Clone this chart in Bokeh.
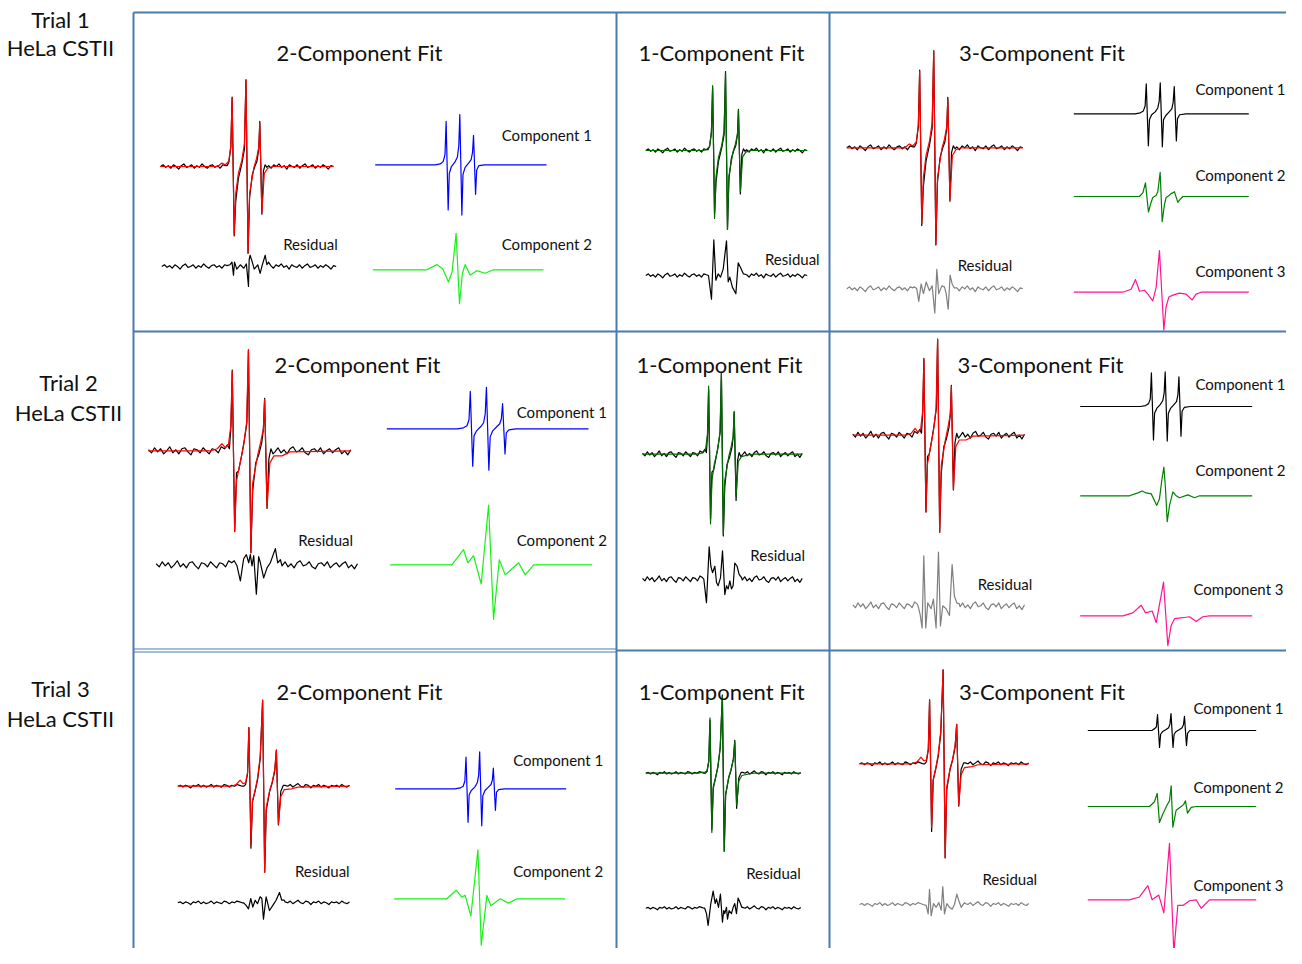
from bokeh.plotting import figure
from bokeh.models import Range1d, ColumnDataSource
from bokeh.core.properties import value
from bokeh.embed import file_html
from bokeh.resources import INLINE

# ---------------- data (field in G, intensity in % of the central line) ----------------
FIELD_L = list(range(3400, 3476, 3))
FIELD_R = list(range(3525, 3601, 3))

NOISE_T1_L = [0, 2, -1, 1, -2, 2, 0, -3, 1, 3, -1, 0, 2, -2, 1, -1, 3, 0, -2, 1, 2, -1, 1, -2, 2, 1]
NOISE_T1_R = [1, -2, 2, 0, 3, -1, 1, -3, 2, 0, -1, 2, -2, 1, 3, -1, 0, 2, -2, 1, -1, 2, 0, -3, 1, 0]
NOISE_T2_L = [1, -2, 3, -1, 2, -3, 0, 4, -2, 1, -3, 2, 3, -1, -4, 2, 1, -2, 3, 0, -3, 2, 1, -2, 4, 2]
NOISE_T2_R = [-1, 3, -2, 1, -3, 2, 4, -1, 0, 3, -2, -4, 1, 2, -1, 3, -3, 0, 2, -2, 1, 3, -3, 0, -4, 1]
NOISE_T3_L = [0, 1, -1, 1, 0, -2, 1, 0, 2, -1, 1, -1, 0, 2, -1, 1, 0, -1, 2, 1, -1, 1, 0, 2, 1, 0]
NOISE_T3_R = [1, 0, 2, -1, 1, 3, 0, -1, 2, 1, -2, 1, 0, 2, -1, 1, 0, -2, 1, 0, 1, -1, 2, 0, -1, 1]

# experimental spectra (central part)
EXP_T1_B = [3477, 3479, 3481.3, 3482.8, 3485.2, 3487, 3490, 3494, 3497, 3498.8, 3501.2, 3503, 3506, 3509, 3511.5, 3513.6, 3514.8, 3517.2, 3519, 3521, 3523]
EXP_T1_I = [1, 5, 22, 80, -80, -40, -14, 3, 20, 100, -100, -36, -10, 0, 6, 20, 52, -55, -5, 2, -1]
EXP_T2_B = [3476, 3478, 3480, 3481.6, 3482.8, 3485.2, 3487, 3489, 3492, 3495, 3497.3, 3498.8, 3501.2, 3503, 3506, 3509, 3512, 3513.6, 3514.8, 3517.2, 3519, 3521, 3523]
EXP_T2_I = [3, 6, 2, 26, 80, -80, -22, -20, -5, 12, 28, 100, -101, -40, -12, -4, 8, 22, 52, -57, -8, 2, -3]
EXP_T3_B = [3477, 3479, 3481.3, 3482.8, 3485.2, 3487, 3490, 3493, 3496, 3498.8, 3501.2, 3503, 3507, 3510, 3513, 3514.8, 3517.2, 3520, 3523]
EXP_T3_I = [0, 2, 15, 68, -72, -18, -6, 8, 32, 100, -100, -28, -6, 4, 18, 42, -45, -6, 1]

# fits (multi = 2/3-component, single = 1-component)
FIT_T1_B = [3400, 3466, 3471, 3475, 3479, 3481.3, 3482.8, 3485.2, 3487, 3490, 3494, 3497, 3498.8, 3501.2, 3503, 3508, 3511, 3513.6, 3514.8, 3517.2, 3520, 3524, 3530, 3600]
FIT_T1_MULTI = [0, 0, 4, 2, 6, 24, 79, -78, -31, -8, 7, 26, 100, -100, -31, -1, 9, 22, 50, -53, -8, -2, 0, 0]
FIT_T1_SINGLE = [0, 0, 0, 1, 5, 24, 82, -86, -33, -9, 6, 25, 98, -100, -32, -2, 8, 21, 51, -52, -8, -2, 0, 0]
FIT_T2_B = [3400, 3462, 3468, 3472.6, 3476, 3479, 3481.3, 3482.8, 3485.2, 3487, 3490, 3494, 3497, 3498.8, 3501.2, 3503, 3508, 3511, 3513.6, 3514.8, 3517.2, 3520, 3524, 3532, 3540, 3600]
FIT_T2_MULTI = [0, 0, 2, 7, 3, 6, 24, 79, -80, -30, -15, 5, 28, 100, -101, -32, -4, 9, 22, 51, -56, -12, -5, -5, -1, 0]
FIT_T2_SINGLE = [0, 0, 0, 1, 2, 6, 24, 84, -86, -32, -12, 5, 26, 100, -99, -33, -3, 9, 22, 53, -52, -9, -3, -1, 0, 0]
FIT_T3_B = [3400, 3462, 3468, 3472.6, 3476, 3479, 3481.3, 3482.8, 3485.2, 3487, 3490, 3493, 3496, 3498.8, 3501.2, 3503, 3507, 3510, 3513, 3514.8, 3517.2, 3520, 3524, 3532.8, 3540, 3600]
FIT_T3_MULTI = [0, 0, 2, 7, 3, 4, 16, 68, -68, -17, -5, 10, 35, 100, -100, -25, -5, 5, 20, 42, -44, -12, -4, -3, -1, 0]
FIT_T3_SINGLE = [0, 0, 0, 1, 1, 3, 16, 71, -76, -20, -6, 8, 33, 100, -100, -27, -5, 5, 18, 40, -41, -10, -3, -1, 0, 0]

# residuals (central part)
RES_T1_2C_B = [3478, 3480.5, 3482.2, 3483.4, 3486, 3490, 3494, 3497, 3499.4, 3500.2, 3501.3, 3503.2, 3506, 3510, 3512.8, 3515, 3518.6, 3520.5, 3522.4]
RES_T1_2C_I = [2, 5, -10, 5, -3, 2, -2, 3, -23, 8, 13, 7, -3, 2, -8, 1, 13, 2, 5]
RES_T1_1C_B = [3477.7, 3481.4, 3484.3, 3486.8, 3489.7, 3492.6, 3495.9, 3500, 3502.1, 3504.1, 3507.4, 3511.6, 3514.5, 3517.4, 3521]
RES_T1_1C_I = [0, -30, 45, -6, 2, -2, 8, 44, -8, -2, -15, -23, 16, 10, 2]
RES_T1_3C_B = [3477, 3479.5, 3481.8, 3484.5, 3487.1, 3490.2, 3493.9, 3497, 3500, 3502.3, 3504.5, 3508, 3511, 3512.9, 3515.2, 3517.4, 3519.7, 3522]
RES_T1_3C_I = [2, 0, -13, 5, -5, 7, -2, 3, -25, 20, -5, 3, 2, -5, -21, 14, 5, 1]
RES_T2_2C_B = [3477.5, 3480.3, 3483.6, 3486.9, 3489.6, 3491.9, 3493.5, 3495.2, 3496.9, 3499.5, 3501.8, 3503.5, 3506.8, 3510.1, 3513.4, 3518.4, 3520.7, 3523.4]
RES_T2_2C_I = [4, -1, -16, 6, 10, 2, 10, -1, 9, -29, 8, 2, -13, -3, 2, 16, 2, 5]
RES_T2_1C_B = [3476.8, 3480.1, 3483.5, 3485.6, 3487.7, 3490.6, 3492.7, 3494.8, 3497.7, 3500.2, 3503.1, 3505.2, 3507.3, 3509.4, 3511.4, 3513.5, 3515.6, 3518.5, 3521, 3524]
RES_T2_1C_I = [0, -29, 40, 16, 8, 16, -4, -8, 2, 35, -19, -8, -12, -2, -12, -8, 20, 16, 6, 2]
RES_T2_3C_B = [3476, 3478.4, 3480.7, 3482.7, 3485, 3487.3, 3491.2, 3493.9, 3497, 3499.8, 3502.1, 3504.8, 3508.7, 3512.6, 3515.7, 3518.4, 3521.1, 3524]
RES_T2_3C_I = [0, -9, -23, 52, -23, 3, -3, 7, -23, 56, -21, 0, -3, -10, 43, 10, 3, 2]
RES_T3_2C_B = [3476.5, 3479.6, 3482.3, 3485, 3487.4, 3490.1, 3492.8, 3495.9, 3497.9, 3499.8, 3502.9, 3504.8, 3506.8, 3510.7, 3514.5, 3518.4, 3521.1, 3523.9]
RES_T3_2C_I = [0, -3, -7, 5, -5, 3, -1, 7, 5, -19, 7, -1, -9, -3, 3, 12, 3, 3]
RES_T3_1C_B = [3476, 3478.3, 3480.4, 3483.9, 3486.9, 3489.5, 3491.2, 3493.8, 3496.3, 3498.9, 3500.6, 3501.9, 3504.1, 3505.4, 3507.5, 3510.5, 3512.7, 3514.8, 3517, 3519.1, 3522.1, 3524]
RES_T3_1C_I = [0, -7, -22, 6, 22, 6, 12, 1, 18, -18, -3, -7, 1, -14, -3, -7, 1, 6, -7, 13, 6, 1]
RES_T3_3C_B = [3478.8, 3481.1, 3482.7, 3484.7, 3487.4, 3490.6, 3493.7, 3496.5, 3498.4, 3500.4, 3503.2, 3506.3, 3509.5, 3512.2, 3515, 3517.4, 3520.1, 3524]
RES_T3_3C_I = [-1, -10, 16, -12, 1, -3, 2, -6, 19, -10, 1, -3, -5, 0, 11, 4, -3, 2]

# component 1 (narrow three-line component)
COMP1_B = [3400, 3470, 3476, 3479.5, 3481.5, 3482.8, 3485.2, 3486.5, 3489, 3493, 3496, 3497.6, 3498.8, 3501.2, 3502.5, 3505, 3509, 3512, 3513.6, 3514.8, 3517.2, 3518.5, 3521, 3528, 3600]
C1_T1_2C = [0, 0, 1, 4, 12, 50, -52, -10, -2, 3, 9, 22, 58, -58, -11, -3, 2, 6, 14, 34, -34, -6, -1, 0, 0]
C1_T1_3C = [0, 0, 1, 3, 8, 31, -33, -6, -1, 2, 6, 13, 32, -34, -6, -2, 2, 5, 12, 28, -28, -5, -1, 0, 0]
C1_T2_2C = [0, 0, 1, 3, 9, 37, -37, -7, -2, 2, 6, 15, 41, -41, -8, -2, 2, 5, 10, 25, -25, -4, -1, 0, 0]
C1_T2_3C = [0, 0, 1, 3, 8, 35, -35, -7, -2, 2, 6, 14, 36, -36, -7, -2, 2, 5, 12, 31, -31, -5, -1, 0, 0]
C1_T3_2C = [0, 0, 1, 3, 9, 37, -39, -7, -2, 2, 7, 16, 43, -43, -8, -2, 2, 5, 10, 24, -25, -4, -1, 0, 0]
C1_T3_3C = [0, 0, 0, 2, 4, 17, -18, -4, -1, 1, 3, 7, 18, -18, -4, -1, 1, 3, 6, 15, -16, -3, 0, 0, 0]

# component 2
C2_T1_2C_B = [3400, 3463.3, 3475, 3482, 3488.7, 3493, 3497.6, 3501.6, 3505, 3508.2, 3514, 3521.8, 3531.6, 3541.4, 3600]
C2_T1_2C_I = [0, 0, 6, 1, -14, -2, 42, -39, -4, 6, -6, -1, -4, 0, 0]
C2_T2_2C_B = [3400, 3461, 3472.6, 3476.9, 3482.5, 3490.1, 3497.4, 3502.3, 3508, 3513.9, 3527.1, 3533.7, 3542, 3600]
C2_T2_2C_I = [0, 0, 15, 2, 9, -19, 59, -54, 5, -10, 2, -10, 0, 0]
C2_T3_2C_B = [3400, 3461.6, 3472.5, 3479.1, 3483, 3489.7, 3497.9, 3501.8, 3508.4, 3513.1, 3524, 3533.7, 3543.5, 3600]
C2_T3_2C_I = [0, 0, 10, 2, 4, -20, 57, -54, 4, -8, 0, -5, 0, 0]
C2_T1_3C_B = [3400, 3470, 3475, 3479, 3481.9, 3485.3, 3488, 3490.3, 3494, 3496, 3498.7, 3501, 3503.5, 3505.5, 3509, 3511.2, 3513.5, 3515, 3518.9, 3521.5, 3524.6, 3530, 3600]
C2_T1_3C_I = [0, 0, 0, 4, 14, -16, -7, -1, 1, 5, 25, -26, -9, -1, 1, 3, 4, 5, -6, -3, 0, 0, 0]
C2_T2_3C_B = [3400, 3457.4, 3467.1, 3472.1, 3476.7, 3482.6, 3489.1, 3492.2, 3495, 3497.3, 3499.2, 3501.2, 3503.9, 3507.8, 3511.6, 3515.5, 3525.2, 3532.9, 3538.8, 3600]
C2_T2_3C_I = [0, 0, 3, 5, 3, 2, -10, -3, 17, 30, 7, -27, -10, 4, 0, -2, 1, -2, 0, 0]
C2_T3_3C_B = [3400, 3473.3, 3479.2, 3482.4, 3485.1, 3489.1, 3493.9, 3497, 3499, 3501, 3504.9, 3510.9, 3513.7, 3516, 3518.4, 3522.8, 3528.7, 3600]
C2_T3_3C_I = [0, 0, 5, 14, -17, -8, 1, 6, 22, -22, -4, 0, 2, 6, -7, -1, 0, 0]

# component 3
C3_T1_3C_B = [3400, 3456, 3465.5, 3470.5, 3475.1, 3480.8, 3484.6, 3490.3, 3494.1, 3497.9, 3502.9, 3505.5, 3508.6, 3513.2, 3520.8, 3528.4, 3535.3, 3539.8, 3545.5, 3600]
C3_T1_3C_I = [0, 0, 3, 13, 1, 2, -2, -9, 5, 43, -39, -15, -5, -3, -1, -2, -8, -2, 0, 0]
C3_T2_3C_B = [3400, 3449.6, 3461.2, 3470.9, 3476, 3483.7, 3488.4, 3496.9, 3501.9, 3505.8, 3509.7, 3519.4, 3527.1, 3534.9, 3542.6, 3550.4, 3600]
C3_T2_3C_I = [0, 0, 3, 11, 3, 5, -7, 35, -31, -10, -3, -2, -1, -6, -1, 0, 0]
C3_T3_3C_B = [3400, 3449.5, 3461.4, 3471.3, 3476.4, 3484.3, 3490.3, 3497, 3502.2, 3506.9, 3512.9, 3520.8, 3528.7, 3534.6, 3544.5, 3600]
C3_T3_3C_I = [0, 0, 3, 15, 0, 5, -14, 60, -56, -6, -6, -1, 0, -9, 0, 0]

ROW_LABELS = ["Trial 1", "Trial 2", "Trial 3"]
CELL_LINE = "HeLa CSTII"
PANEL_TITLES = ["2-Component Fit", "1-Component Fit", "3-Component Fit"]

# ---------------- styles / layout ----------------
BLACK, RED, BLUE, LIME = "#000000", "#ff0000", "#0000ff", "#19f019"
DKGREEN, GREEN, GRAY, PINK = "#006a00", "#008000", "#7f7f7f", "#ff1493"
RULE = "#4a7bb0"
FONT = "Lato"

def full(noise_l, mid, noise_r):
    return list(noise_l) + list(mid) + list(noise_r)

EXP = {
    1: (FIELD_L + EXP_T1_B + FIELD_R, full(NOISE_T1_L, EXP_T1_I, NOISE_T1_R)),
    2: (FIELD_L + EXP_T2_B + FIELD_R, full(NOISE_T2_L, EXP_T2_I, NOISE_T2_R)),
    3: (FIELD_L + EXP_T3_B + FIELD_R, full(NOISE_T3_L, EXP_T3_I, NOISE_T3_R)),
}
NOISE = {1: (NOISE_T1_L, NOISE_T1_R), 2: (NOISE_T2_L, NOISE_T2_R), 3: (NOISE_T3_L, NOISE_T3_R)}

def res(t, b, i):
    return (FIELD_L + b + FIELD_R, full(NOISE[t][0], i, NOISE[t][1]))

# (data, colour, left px, right px, baseline px, px per 100 %)
TRACES = [
    # ---- trial 1 ----
    (EXP[1], BLACK, 160, 333, 166, 86.7),
    ((FIT_T1_B, FIT_T1_MULTI), RED, 160, 333, 166, 86.7),
    (res(1, RES_T1_2C_B, RES_T1_2C_I), BLACK, 161.3, 335.7, 266, 86.7),
    ((COMP1_B, C1_T1_2C), BLUE, 374.7, 546, 164.3, 86.7),
    ((C2_T1_2C_B, C2_T1_2C_I), LIME, 372.3, 543, 269.3, 86.7),
    (EXP[1], BLACK, 645.3, 806.7, 150, 79),
    ((FIT_T1_B, FIT_T1_SINGLE), DKGREEN, 645.3, 806.7, 150, 79),
    (res(1, RES_T1_1C_B, RES_T1_1C_I), BLACK, 645.3, 806.7, 275, 79),
    (EXP[1], BLACK, 846.3, 1022.3, 147.3, 97),
    ((FIT_T1_B, FIT_T1_MULTI), RED, 846.3, 1022.3, 147.3, 97),
    (res(1, RES_T1_3C_B, RES_T1_3C_I), GRAY, 846.3, 1022.3, 288.3, 97),
    ((COMP1_B, C1_T1_3C), BLACK, 1073.3, 1248.3, 113.3, 97),
    ((C2_T1_3C_B, C2_T1_3C_I), GREEN, 1073.3, 1248.3, 196, 97),
    ((C3_T1_3C_B, C3_T1_3C_I), PINK, 1073.3, 1248.3, 291.7, 97),
    # ---- trial 2 ----
    (EXP[2], BLACK, 148, 350.3, 450.3, 101),
    ((FIT_T2_B, FIT_T2_MULTI), RED, 148, 350.3, 450.3, 101),
    (res(2, RES_T2_2C_B, RES_T2_2C_I), BLACK, 155.7, 357, 564.3, 101),
    ((COMP1_B, C1_T2_2C), BLUE, 386.3, 588, 428.3, 101),
    ((C2_T2_2C_B, C2_T2_2C_I), LIME, 389.7, 591.7, 564.3, 101),
    (EXP[2], BLACK, 642, 801.7, 453.7, 81),
    ((FIT_T2_B, FIT_T2_SINGLE), DKGREEN, 642, 801.7, 453.7, 81),
    (res(2, RES_T2_1C_B, RES_T2_1C_I), BLACK, 642, 801.7, 578.7, 81),
    (EXP[2], BLACK, 852.3, 1024, 434.7, 96),
    ((FIT_T2_B, FIT_T2_MULTI), RED, 852.3, 1024, 434.7, 96),
    (res(2, RES_T2_3C_B, RES_T2_3C_I), GRAY, 852.3, 1024, 605.3, 96),
    ((COMP1_B, C1_T2_3C), BLACK, 1079.7, 1251.7, 406, 96),
    ((C2_T2_3C_B, C2_T2_3C_I), GREEN, 1079.7, 1251.7, 495.3, 96),
    ((C3_T2_3C_B, C3_T2_3C_I), PINK, 1079.7, 1251.7, 615.3, 96),
    # ---- trial 3 ----
    (EXP[3], BLACK, 177.3, 349, 785.7, 86),
    ((FIT_T3_B, FIT_T3_MULTI), RED, 177.3, 349, 785.7, 86),
    (res(3, RES_T3_2C_B, RES_T3_2C_I), BLACK, 177.3, 349, 902.3, 86),
    ((COMP1_B, C1_T3_2C), BLUE, 394.7, 565.7, 788.3, 86),
    ((C2_T3_2C_B, C2_T3_2C_I), LIME, 393.7, 564.7, 898.3, 86),
    (EXP[3], BLACK, 645.3, 800.3, 772.7, 78),
    ((FIT_T3_B, FIT_T3_SINGLE), DKGREEN, 645.3, 800.3, 772.7, 78),
    (res(3, RES_T3_1C_B, RES_T3_1C_I), BLACK, 645.3, 800.3, 907.7, 78),
    (EXP[3], BLACK, 859, 1028.3, 763.3, 94),
    ((FIT_T3_B, FIT_T3_MULTI), RED, 859, 1028.3, 763.3, 94),
    (res(3, RES_T3_3C_B, RES_T3_3C_I), GRAY, 859, 1028.3, 904, 94),
    ((COMP1_B, C1_T3_3C), BLACK, 1087.3, 1255.7, 730, 94),
    ((C2_T3_3C_B, C2_T3_3C_I), GREEN, 1087.3, 1255.7, 806, 94),
    ((C3_T3_3C_B, C3_T3_3C_I), PINK, 1087.3, 1255.7, 899.3, 94),
]

W, H = 1286, 948
X0, X1, Y0, Y1 = 0, W, 0, H
B_MIN, B_MAX = 3400, 3600

p = figure(width=W, height=H, x_range=Range1d(X0, X1), y_range=Range1d(Y1, Y0),
           output_backend="svg", toolbar_location=None, min_border=0,
           x_axis_location=None, y_axis_location=None, title=None)
p.grid.visible = False
p.outline_line_color = None
p.background_fill_color = "white"
p.border_fill_color = "white"

# panel rules
p.segment(x0=[133, 616, 829], y0=[12, 12, 12], x1=[133, 616, 829], y1=[964, 964, 964],
          line_color=RULE, line_width=2)
p.segment(x0=[133, 133, 616], y0=[12, 331, 650], x1=[1302, 1302, 1302], y1=[12, 331, 650],
          line_color=RULE, line_width=2)
p.segment(x0=[133, 133], y0=[648.5, 651.5], x1=[616, 616], y1=[648.5, 651.5],
          line_color=RULE, line_width=1.2)

# spectra, each through its own pair of scales
for k, ((bx, iy), col, x0, x1, base, hpx) in enumerate(TRACES):
    kx = (x1 - x0) / (B_MAX - B_MIN)
    ky = hpx / 100.0
    xr = Range1d(B_MIN - (x0 - X0) / kx, B_MAX + (X1 - x1) / kx)
    yr = Range1d((base - Y1) / ky, (base - Y0) / ky)
    p.extra_x_ranges[f"x{k}"] = xr
    p.extra_y_ranges[f"y{k}"] = yr
    src = ColumnDataSource(dict(b=list(bx), i=list(iy)))
    p.line("b", "i", source=src, x_range_name=f"x{k}", y_range_name=f"y{k}",
           line_color=col, line_width=1.2, line_join="round")

def texts(xs, ys, labels, size):
    src = ColumnDataSource(dict(x=xs, y=ys, t=labels))
    p.text("x", "y", text="t", source=src, text_font=value(FONT),
           text_font_size=value(size), text_align="center",
           text_baseline="middle", text_color="#111111")

# row labels
texts([60, 68, 60], [19, 382, 688], ROW_LABELS, "22px")
texts([60, 68, 60], [47, 412, 718], [CELL_LINE] * 3, "22px")
# panel titles
texts([359, 721, 1041.5, 357, 719, 1040, 359, 721.3, 1041.5],
      [52, 52, 52, 364, 364, 364, 691, 691, 691], PANEL_TITLES * 3, "22px")
# trace labels
lab_x = [546.3, 546.3, 310, 791.8, 1240, 1240, 1240, 984.5,
         561.3, 561.3, 325.2, 777.2, 1240, 1240, 1238, 1004.5,
         557.7, 557.7, 321.8, 773, 1238, 1238, 1238, 1009.3]
lab_y = [134, 243.5, 243.5, 258.5, 88, 174.5, 270.5, 264.5,
         411.5, 539.5, 539.5, 554.5, 383.5, 469.5, 588.5, 583.5,
         759.5, 870.5, 870.5, 872.5, 707.5, 786.5, 884.5, 878.5]
lab_t = ["Component 1", "Component 2", "Residual", "Residual",
         "Component 1", "Component 2", "Component 3", "Residual"] * 3
texts(lab_x, lab_y, lab_t, "15px")

open("out.html", "w").write(file_html(p, INLINE))
